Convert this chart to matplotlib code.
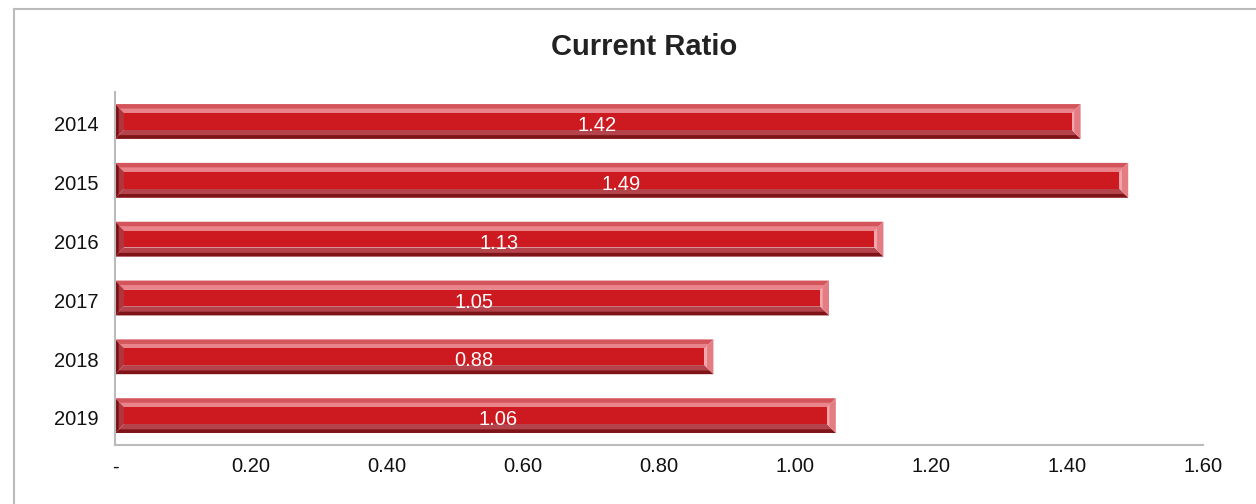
import numpy as np
import matplotlib.pyplot as plt
from matplotlib.patches import Polygon
from matplotlib.lines import Line2D
from matplotlib.ticker import FuncFormatter

plt.rcParams['font.family'] = ['Liberation Sans', 'DejaVu Sans']

# data
years = ['2014', '2015', '2016', '2017', '2018', '2019']
ratio = [1.42, 1.49, 1.13, 1.05, 0.88, 1.06]
xticks = [0, 0.2, 0.4, 0.6, 0.8, 1.0, 1.2, 1.4, 1.6]

# where the value labels sit along each bar
label_x = [0.709, 0.744, 0.565, 0.528, 0.528, 0.563]

fig = plt.figure(figsize=(12.56, 5.04), dpi=100)
ax = fig.add_axes([115/1256, 1 - 445/504, 1088/1256, 353/504])

xmax = 1.6
ax.set_xlim(0, xmax)
ax.set_ylim(len(years) - 0.5, -0.5)

h = 0.59
# bevel size ~9 px converted to data units
ax_w = 1088
ax_h = 353
dx = 9 / ax_w * xmax
dy = 9 / ax_h * len(years)

face = '#cd1a21'
for i, v in enumerate(ratio):
    y0, y1 = i - h / 2, i + h / 2
    x0, x1 = 0, v
    ix0, ix1 = x0 + dx, x1 - dx
    iy0, iy1 = y0 + dy, y1 - dy
    # top bevel (y0 is top since axis is inverted)
    ax.add_patch(Polygon([(x0, y0), (x1, y0), (ix1, iy0), (ix0, iy0)],
                         closed=True, facecolor='#d4545c', edgecolor='none'))
    ax.add_patch(Polygon([(ix0 - dx*0.5, iy0 - dy*0.5), (ix1 + dx*0.5, iy0 - dy*0.5), (ix1, iy0), (ix0, iy0)],
                         closed=True, facecolor='#ea848b', edgecolor='none'))
    # bottom bevel
    ax.add_patch(Polygon([(x0, y1), (x1, y1), (ix1, iy1), (ix0, iy1)],
                         closed=True, facecolor='#b5434b', edgecolor='none'))
    ax.add_patch(Polygon([(x0 + dx*0.5, y1 - dy*0.4), (x1 - dx*0.5, y1 - dy*0.4), (x1, y1), (x0, y1)],
                         closed=True, facecolor='#7e1418', edgecolor='none'))
    # left bevel
    ax.add_patch(Polygon([(x0, y0), (ix0, iy0), (ix0, iy1), (x0, y1)],
                         closed=True, facecolor='#b0353c', edgecolor='none'))
    ax.add_patch(Polygon([(x0, y0), (x0 + dx*0.4, y0 + dy*0.4), (x0 + dx*0.4, y1 - dy*0.4), (x0, y1)],
                         closed=True, facecolor='#7a1015', edgecolor='none'))
    # right bevel
    ax.add_patch(Polygon([(x1, y0), (ix1, iy0), (ix1, iy1), (x1, y1)],
                         closed=True, facecolor='#e47c83', edgecolor='none'))
    ax.add_patch(Polygon([(ix1 + dx*0.3, iy0 - dy*0.3), (ix1, iy0), (ix1, iy1), (ix1 + dx*0.3, iy1 + dy*0.3)],
                         closed=True, facecolor='#f4a6aa', edgecolor='none'))
    # face
    ax.barh(i, ix1 - ix0, left=ix0, height=iy1 - iy0, color=face, edgecolor='none')
    ax.text(label_x[i], i + 0.07, f'{v:.2f}', color='white', fontsize=14.5,
            ha='center', va='center')

ax.set_yticks(range(len(years)))
ax.set_yticklabels(years)
ax.set_xticks(xticks)
ax.xaxis.set_major_formatter(FuncFormatter(lambda v, p: '-' if v == 0 else f'{v:.2f}'))
ax.tick_params(axis='both', length=0, labelsize=14.5, colors='#111111')
ax.tick_params(axis='x', pad=9)
ax.tick_params(axis='y', pad=12)
for lbl in ax.get_yticklabels():
    lbl.set_y(lbl.get_position()[1])
ax.set_yticks([y + 0.04 for y in range(len(years))])
ax.set_yticklabels(years)

for s in ['top', 'right']:
    ax.spines[s].set_visible(False)
for s in ['left', 'bottom']:
    ax.spines[s].set_color('#bbbbbb')
    ax.spines[s].set_linewidth(1.5)

fig.text(644/1256, 1 - 47/504, 'Current Ratio', fontsize=21, fontweight='bold',
         ha='center', va='center', color='#222222')

# outer frame
fig.add_artist(Line2D([14/1256, 1], [1 - 8.5/504, 1 - 8.5/504], color='#bbbbbb', lw=1.5))
fig.add_artist(Line2D([14/1256, 14/1256], [0, 1 - 8.5/504], color='#bbbbbb', lw=1.5))

fig.savefig('out.png', dpi=100)
